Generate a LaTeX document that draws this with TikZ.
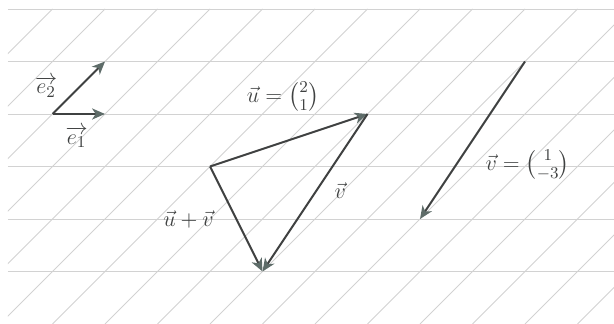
\documentclass[tikz,border=0pt]{standalone}
\usepackage{amsmath,amssymb}
\usetikzlibrary{arrows.meta,positioning,calc}
\definecolor{gridgray}{HTML}{D2D2D2}
\definecolor{vecink}{HTML}{3F4141}
\definecolor{tipink}{HTML}{5E6C69}

\begin{document}
\begin{tikzpicture}[
  gridline/.style={draw=gridgray, line width=0.5pt},
  vecarrow/.style={draw=vecink, line width=1.1pt,
                   -{Stealth[length=7pt, width=6pt, inset=2pt, color=tipink]}},
  lab/.style={font=\fontsize{13}{15}\selectfont, text=vecink, inner sep=1pt}]
\def\W{11.695}\def\H{6.171}
\useasboundingbox (0,0) rectangle (\W,\H);
% ---------------- oblique grid
\foreach \y in {1,...,6} {\draw[gridline] (0.15,\y) -- (\W,\y);}
\begin{scope}
  \clip (0.15,0) rectangle (\W,6);
  \foreach \k in {-6,...,12} {\draw[gridline] (\k,0) -- (\k+6,6);}
\end{scope}
% ---------------- basis
\coordinate (O) at (1,4);
\coordinate (E1) at (2,4);
\coordinate (E2) at (2,5);
\draw[vecarrow] (O) -- (E1);
\draw[vecarrow] (O) -- (E2);
\node[lab] (le2) at (0.88,4.52) {$\overrightarrow{e_2}$};
\node[lab] (le1) at (1.46,3.56) {$\overrightarrow{e_1}$};
% ---------------- triangle u, v, u+v
\coordinate (A) at (4,3);
\coordinate (B) at (7,4);
\coordinate (C) at (5,1);
\draw[vecarrow] (A) -- (B);
\draw[vecarrow] (B) -- (C);
\draw[vecarrow] (A) -- (C);
\node[lab] (lu) at (5.39,4.33) {$\vec{u}=\binom{2}{1}$};
\node[lab] (lv) at (6.48,2.55) {$\vec{v}$};
\node[lab] (luv) at (3.59,2.0) {$\vec{u}+\vec{v}$};
% ---------------- free v
\coordinate (P) at (10,5);
\coordinate (Q) at (8,2);
\draw[vecarrow] (P) -- (Q);
\node[lab] (lvv) at (10.05,3.03) {$\vec{v}=\binom{1}{-3}$};
\end{tikzpicture}
\end{document}
